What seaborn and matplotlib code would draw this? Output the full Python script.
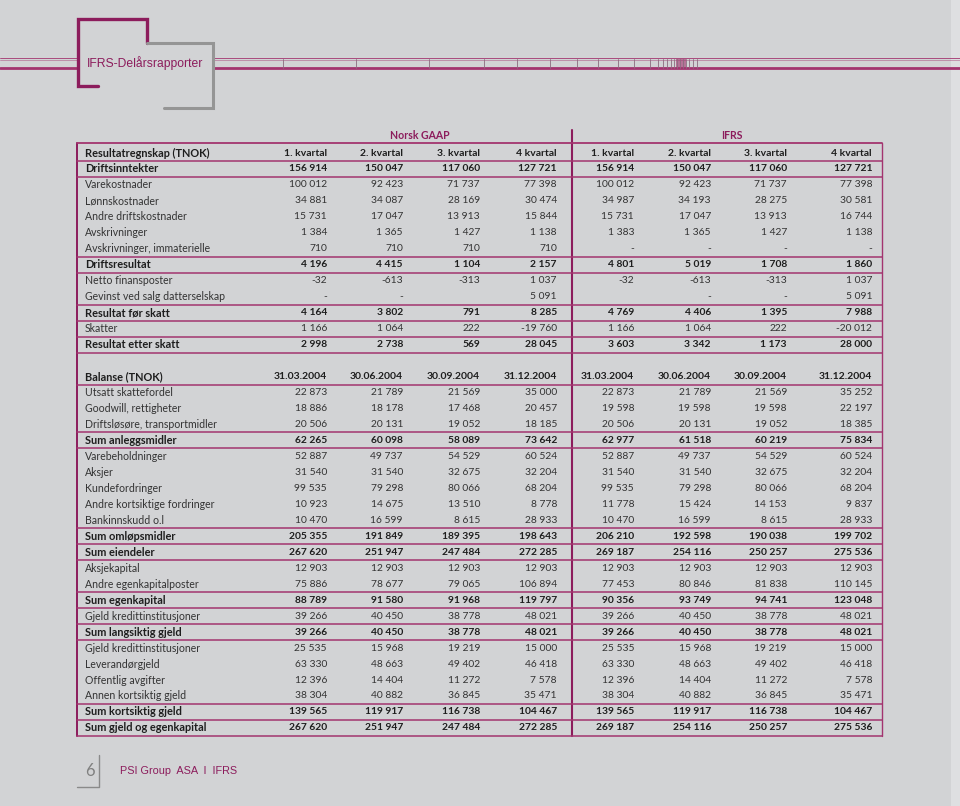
import numpy as np
import pandas as pd
import matplotlib
matplotlib.use("Agg")
import matplotlib.pyplot as plt
import seaborn as sns

# ---- data -------------------------------------------------------------
group_names = ["Norsk GAAP", "IFRS"]

result_title = "Resultatregnskap (TNOK)"
quarter_cols = ["1. kvartal", "2. kvartal", "3. kvartal", "4 kvartal"]
result_labels = [
    "Driftsinntekter", "Varekostnader", "Lønnskostnader", "Andre driftskostnader",
    "Avskrivninger", "Avskrivninger, immaterielle", "Driftsresultat",
    "Netto finansposter", "Gevinst ved salg datterselskap", "Resultat før skatt",
    "Skatter", "Resultat etter skatt",
]
result_gaap = [
    [156914, 150047, 117060, 127721],
    [100012, 92423, 71737, 77398],
    [34881, 34087, 28169, 30474],
    [15731, 17047, 13913, 15844],
    [1384, 1365, 1427, 1138],
    [710, 710, 710, 710],
    [4196, 4415, 1104, 2157],
    [-32, -613, -313, 1037],
    ["-", "-", "", 5091],
    [4164, 3802, 791, 8285],
    [1166, 1064, 222, -19760],
    [2998, 2738, 569, 28045],
]
result_ifrs = [
    [156914, 150047, 117060, 127721],
    [100012, 92423, 71737, 77398],
    [34987, 34193, 28275, 30581],
    [15731, 17047, 13913, 16744],
    [1383, 1365, 1427, 1138],
    ["-", "-", "-", "-"],
    [4801, 5019, 1708, 1860],
    [-32, -613, -313, 1037],
    ["", "-", "-", 5091],
    [4769, 4406, 1395, 7988],
    [1166, 1064, 222, -20012],
    [3603, 3342, 1173, 28000],
]
result_bold = ["Driftsinntekter", "Driftsresultat", "Resultat før skatt", "Resultat etter skatt"]

balance_title = "Balanse (TNOK)"
date_cols = ["31.03.2004", "30.06.2004", "30.09.2004", "31.12.2004"]
balance_labels = [
    "Utsatt skattefordel", "Goodwill, rettigheter", "Driftsløsøre, transportmidler",
    "Sum anleggsmidler", "Varebeholdninger", "Aksjer", "Kundefordringer",
    "Andre kortsiktige fordringer", "Bankinnskudd o.l", "Sum omløpsmidler",
    "Sum eiendeler", "Aksjekapital", "Andre egenkapitalposter", "Sum egenkapital",
    "Gjeld kredittinstitusjoner", "Sum langsiktig gjeld", "Gjeld kredittinstitusjoner",
    "Leverandørgjeld", "Offentlig avgifter", "Annen kortsiktig gjeld",
    "Sum kortsiktig gjeld", "Sum gjeld og egenkapital",
]
balance_gaap = [
    [22873, 21789, 21569, 35000],
    [18886, 18178, 17468, 20457],
    [20506, 20131, 19052, 18185],
    [62265, 60098, 58089, 73642],
    [52887, 49737, 54529, 60524],
    [31540, 31540, 32675, 32204],
    [99535, 79298, 80066, 68204],
    [10923, 14675, 13510, 8778],
    [10470, 16599, 8615, 28933],
    [205355, 191849, 189395, 198643],
    [267620, 251947, 247484, 272285],
    [12903, 12903, 12903, 12903],
    [75886, 78677, 79065, 106894],
    [88789, 91580, 91968, 119797],
    [39266, 40450, 38778, 48021],
    [39266, 40450, 38778, 48021],
    [25535, 15968, 19219, 15000],
    [63330, 48663, 49402, 46418],
    [12396, 14404, 11272, 7578],
    [38304, 40882, 36845, 35471],
    [139565, 119917, 116738, 104467],
    [267620, 251947, 247484, 272285],
]
balance_ifrs = [
    [22873, 21789, 21569, 35252],
    [19598, 19598, 19598, 22197],
    [20506, 20131, 19052, 18385],
    [62977, 61518, 60219, 75834],
    [52887, 49737, 54529, 60524],
    [31540, 31540, 32675, 32204],
    [99535, 79298, 80066, 68204],
    [11778, 15424, 14153, 9837],
    [10470, 16599, 8615, 28933],
    [206210, 192598, 190038, 199702],
    [269187, 254116, 250257, 275536],
    [12903, 12903, 12903, 12903],
    [77453, 80846, 81838, 110145],
    [90356, 93749, 94741, 123048],
    [39266, 40450, 38778, 48021],
    [39266, 40450, 38778, 48021],
    [25535, 15968, 19219, 15000],
    [63330, 48663, 49402, 46418],
    [12396, 14404, 11272, 7578],
    [38304, 40882, 36845, 35471],
    [139565, 119917, 116738, 104467],
    [269187, 254116, 250257, 275536],
]

page_title = "IFRS-Delårsrapporter"
footer_text = "PSI Group  ASA  I  IFRS"
page_number = "6"

# ---- style ------------------------------------------------------------
BG = "#d2d3d5"
MAGENTA = "#a3346f"
DARK_MAG = "#8c1c5c"
TXT = "#1e1e1e"
TXT_REG = "#333333"
FONT = ["Lato", "DejaVu Sans"]
NARROW = ["Liberation Sans Narrow", "Liberation Sans", "DejaVu Sans"]

sns.set_theme(style="white", rc={"figure.facecolor": BG, "axes.facecolor": BG})
plt.rcParams["font.family"] = FONT


def fmt(v):
    if isinstance(v, str):
        return v
    s = f"{abs(v):,}".replace(",", " ")
    return "-" + s if v < 0 else s


# one long table: title row, rows, empty row, title row, rows
rows = []
rows.append((result_title, quarter_cols, quarter_cols, True, True))
for lab, g, i in zip(result_labels, result_gaap, result_ifrs):
    rows.append((lab, [fmt(v) for v in g], [fmt(v) for v in i], lab in result_bold, False))
rows.append(("", [""] * 4, [""] * 4, False, False))
rows.append((balance_title, date_cols, date_cols, True, True))
for lab, g, i in zip(balance_labels, balance_gaap, balance_ifrs):
    rows.append((lab, [fmt(v) for v in g], [fmt(v) for v in i], lab.startswith("Sum"), False))
table = pd.DataFrame(rows, columns=["label", "gaap", "ifrs", "bold", "head"])

# layout (pixels)
W, H = 960, 806
Y0, PITCH = 153, 15.97
LEFT, RIGHT, DIV = 77, 882, 572
LABEL_X = 85
gaap_x = [327, 403, 480, 557]
ifrs_x = [634, 711, 787, 872]

fig = plt.figure(figsize=(W / 100, H / 100), dpi=100)
deco = fig.add_axes([0, 0, 1, 1])
deco.set_xlim(0, W)
deco.set_ylim(H, 0)
deco.axis("off")

ax = fig.add_axes([0, 0, 1, 1])
ax.set_xlim(0, W)
ax.set_ylim((H - Y0) / PITCH, -Y0 / PITCH)
ax.axis("off")
ax.patch.set_alpha(0)

# right edge strip
deco.add_patch(plt.Rectangle((951, 0), 9, H, color="#dedfe1", lw=0))

# ---- page header decoration ------------------------------------------
for x0, x1 in [(0, 78), (213, W)]:
    deco.plot([x0, x1], [58, 58], color=MAGENTA, lw=0.6)
    deco.plot([x0, x1], [60, 60], color=MAGENTA, lw=0.5, alpha=0.6)
    deco.plot([x0, x1], [68, 68], color=MAGENTA, lw=2.0)
for x in [283, 356, 429, 484, 517, 550, 577, 598, 618, 634, 650, 658,
          663, 667, 671, 674, 677, 680, 683, 686, 689, 693, 697]:
    deco.plot([x, x], [59, 68], color="#8c6a7e", lw=0.6)
deco.add_patch(plt.Rectangle((676, 59), 10, 9, color=MAGENTA, alpha=0.6, lw=0))
deco.plot([98, 78, 78, 147, 147], [86, 86, 19, 19, 43], color=DARK_MAG, lw=2.4,
          solid_joinstyle="miter")
deco.plot([147, 213, 213, 164], [43, 43, 108, 108], color="#959595", lw=2.2,
          solid_joinstyle="miter")
deco.text(87, 63, page_title, color=DARK_MAG, fontsize=8.7, va="center",
          family=NARROW)

# ---- footer ------------------------------------------------------------
deco.text(90, 771, page_number, color="#808080", fontsize=12, ha="center",
          va="center")
deco.plot([99, 99, 77], [755, 787, 787], color="#8a8a8a", lw=1.0)
deco.text(120, 771, footer_text, color=DARK_MAG, fontsize=7.8, va="center",
          family=NARROW)

# ---- table -------------------------------------------------------------
n = len(table)
top = -0.6
ax.plot([LEFT, LEFT], [top, n - 0.5], color=DARK_MAG, lw=1.4)
ax.plot([RIGHT, RIGHT], [top, n - 0.5], color=MAGENTA, lw=1.0)
ax.plot([DIV, DIV], [-1.44, n - 0.5], color=DARK_MAG, lw=1.5)
ax.plot([LEFT, RIGHT], [top, top], color=MAGENTA, lw=1.3)

ax.text(420, -1.1, group_names[0], color=DARK_MAG, fontsize=7.6,
        fontweight="bold", ha="center", va="center")
ax.text(732, -1.1, group_names[1], color=DARK_MAG, fontsize=7.6,
        fontweight="bold", ha="center", va="center")

rules = set()
for i, r in table.iterrows():
    if r["bold"]:
        if i > 0 and table.loc[i - 1, "label"] != "":
            rules.add(i - 0.5)
        rules.add(i + 0.5)
for y in sorted(rules):
    ax.plot([LEFT, RIGHT], [y, y], color=MAGENTA, lw=1.1)

for i, r in table.iterrows():
    if r["label"] == "":
        continue
    wt = "bold" if r["bold"] else "normal"
    col = TXT if r["bold"] else TXT_REG
    lab_fs = 7.9 if r["bold"] else 7.6
    num_fs = 7.5 if r["head"] else 7.4
    ax.text(LABEL_X, i, r["label"], fontsize=lab_fs, fontweight=wt, color=col,
            va="center", ha="left")
    for x, v in zip(gaap_x, r["gaap"]):
        ax.text(x, i, v, fontsize=num_fs, fontweight=wt, color=col,
                va="center", ha="right")
    for x, v in zip(ifrs_x, r["ifrs"]):
        ax.text(x, i, v, fontsize=num_fs, fontweight=wt, color=col,
                va="center", ha="right")

fig.savefig("out.png", dpi=100, facecolor=BG)
